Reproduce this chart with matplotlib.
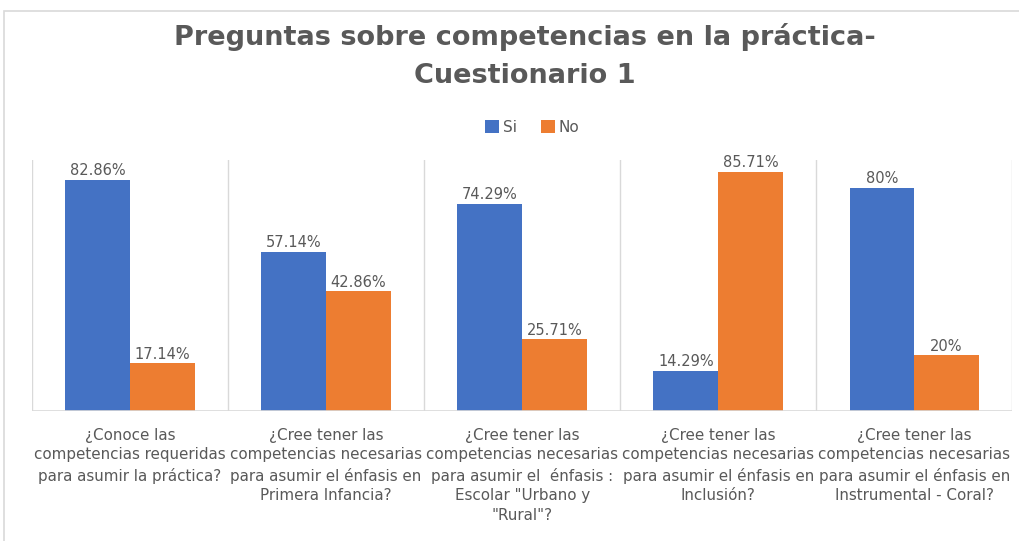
import numpy as np
import matplotlib.pyplot as plt
from matplotlib.patches import Rectangle

plt.rcParams['font.family'] = ['DejaVu Sans']

categorias = [
    "¿Conoce las\ncompetencias requeridas\npara asumir la práctica?",
    "¿Cree tener las\ncompetencias necesarias\npara asumir el énfasis en\nPrimera Infancia?",
    "¿Cree tener las\ncompetencias necesarias\npara asumir el  énfasis :\nEscolar \"Urbano y\n\"Rural\"?",
    "¿Cree tener las\ncompetencias necesarias\npara asumir el énfasis en\nInclusión?",
    "¿Cree tener las\ncompetencias necesarias\npara asumir el énfasis en\nInstrumental - Coral?",
]
si = [82.86, 57.14, 74.29, 14.29, 80]
no = [17.14, 42.86, 25.71, 85.71, 20]
etiquetas_si = ["82.86%", "57.14%", "74.29%", "14.29%", "80%"]
etiquetas_no = ["17.14%", "42.86%", "25.71%", "85.71%", "20%"]

azul = '#4472C4'
naranja = '#ED7D31'
gris = '#595959'

fig = plt.figure(figsize=(10.2, 5.41), dpi=100)
ax = fig.add_axes([0.0314, 0.2403, 0.961, 0.464])

x = np.arange(len(categorias))
w = 0.33
b1 = ax.bar(x - w / 2, si, w, color=azul, label='Si', zorder=3)
b2 = ax.bar(x + w / 2, no, w, color=naranja, label='No', zorder=3)

for rects, labs in [(b1, etiquetas_si), (b2, etiquetas_no)]:
    for r, t in zip(rects, labs):
        ax.text(r.get_x() + r.get_width() / 2, r.get_height() + 0.6, t,
                ha='center', va='bottom', fontsize=10.5, color=gris)

ax.set_xlim(-0.5, len(categorias) - 0.5)
ax.set_ylim(0, 90)
for xv in np.arange(-0.5, len(categorias), 1.0):
    ax.axvline(xv, color='#D9D9D9', lw=1, zorder=1)
ax.axhline(0, color='#D9D9D9', lw=1.2, zorder=4)
for s in ax.spines.values():
    s.set_visible(False)
ax.set_yticks([])
ax.set_xticks(x)
ax.set_xticklabels(categorias, fontsize=10.9, color=gris, linespacing=1.4)
ax.tick_params(axis='x', length=0, pad=12)

fig.text(0.515, 0.897, "Preguntas sobre competencias en la práctica-\nCuestionario 1",
         ha='center', va='center', fontsize=19.5, fontweight='bold', color=gris,
         linespacing=1.6)

fig.legend(loc='center', bbox_to_anchor=(0.522, 0.765), ncol=2, frameon=False,
           fontsize=11, handlelength=0.9, handleheight=0.9, handletextpad=0.25,
           columnspacing=1.6, labelcolor=gris)

fig.patches.append(Rectangle((0.004, -0.01), 1.2, 0.99, transform=fig.transFigure,
                             fill=False, edgecolor='#D9D9D9', lw=1.2))

fig.savefig('out.png', dpi=100)
